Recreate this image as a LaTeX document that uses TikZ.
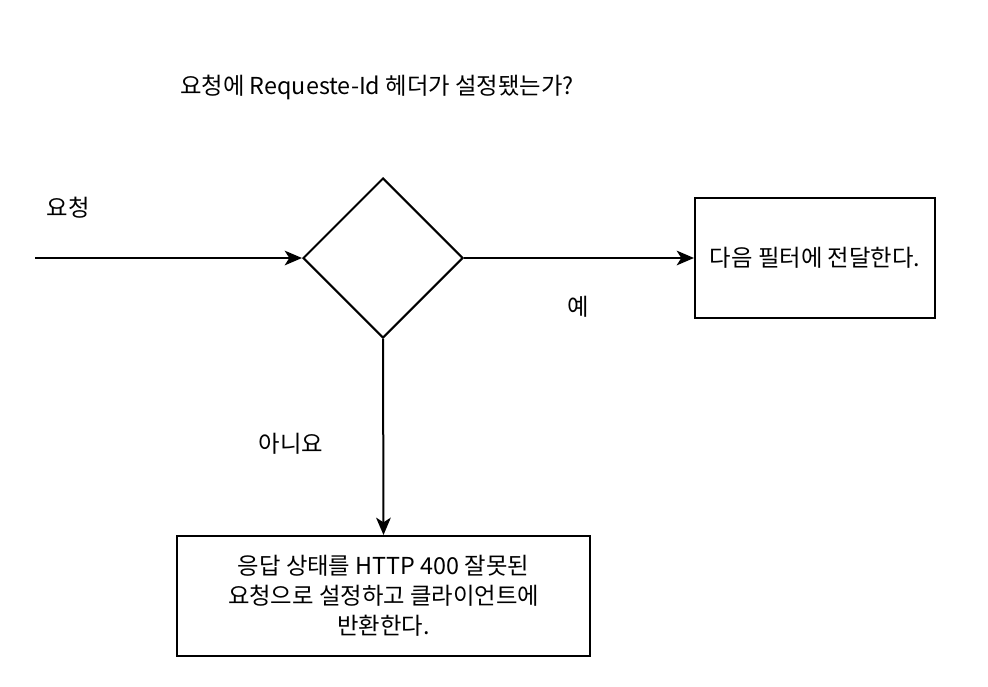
\documentclass[tikz,border=0pt]{standalone}
\usepackage{fontspec}
\setmainfont{Noto Sans CJK KR}
\usetikzlibrary{arrows.meta,shapes.geometric}

\begin{document}
\begin{tikzpicture}[x=0.75pt,y=-0.75pt,
    every node/.style={font=\fontsize{17.5}{22.5}\selectfont},
    box/.style={draw,line width=1.5pt,align=center,inner sep=0pt},
    check/.style={draw,diamond,line width=1.5pt,minimum width=120pt,minimum height=120pt,inner sep=0pt},
    flow/.style={line width=1.5pt,-{Stealth[length=13pt,width=11pt,inset=3.5pt]}}]
    \useasboundingbox (0,0) rectangle (988,686);

    % Question
    \node (question) at (377,87) {요청에 Requeste-Id 헤더가 설정됐는가?};
    \node[check] (decide) at (383,258) {};

    % Boxes
    \node[box,minimum width=180pt,minimum height=90pt] (next) at (815,258) {다음 필터에 전달한다.};
    \node[box,minimum width=309.75pt,minimum height=90pt] (reject) at (383.5,596)
        {응답 상태를 HTTP 400 잘못된\\요청으로 설정하고 클라이언트에\\반환한다.};

    % Arrows
    \coordinate (start) at (35,258);
    \draw[flow] (start) -- (decide.west);
    \draw[flow] (decide.east) -- (next.west);
    \draw[flow] (decide.south) -- (reject.north);

    % Labels
    \node (request) at (68,208) {요청};
    \node (yes) at (578,307) {예};
    \node (no) at (291,444) {아니요};
\end{tikzpicture}
\end{document}
